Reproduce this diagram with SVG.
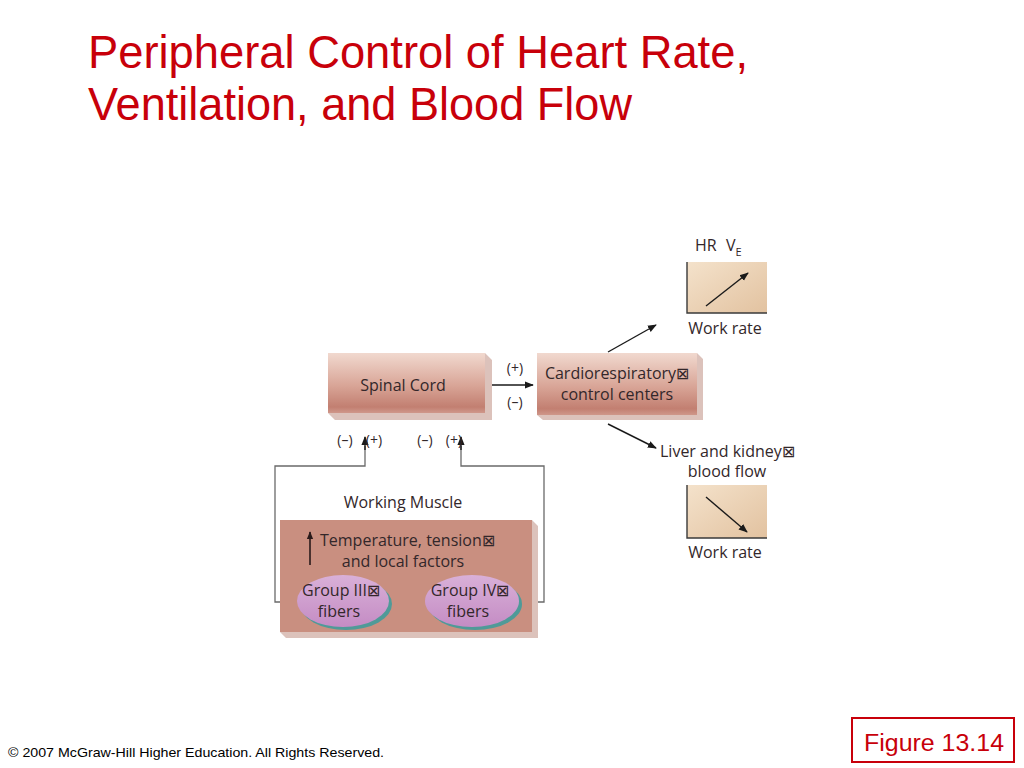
<svg xmlns="http://www.w3.org/2000/svg" width="1024" height="768" viewBox="0 0 1024 768">
<defs>
<linearGradient id="boxGrad" x1="0" y1="0" x2="0" y2="1">
<stop offset="0" stop-color="#f1d9cf"/>
<stop offset="0.55" stop-color="#d8a496"/>
<stop offset="0.9" stop-color="#c27f71"/>
<stop offset="1" stop-color="#cf978a"/>
</linearGradient>
<linearGradient id="graphGrad" x1="0" y1="0" x2="1" y2="1">
<stop offset="0" stop-color="#f4e2cb"/>
<stop offset="1" stop-color="#e2c2a0"/>
</linearGradient>
<linearGradient id="ellGrad" x1="0" y1="0" x2="0" y2="1">
<stop offset="0" stop-color="#d9b0d8"/>
<stop offset="1" stop-color="#c48cc4"/>
</linearGradient>
<marker id="ah" viewBox="0 0 10 10" refX="9" refY="5" markerWidth="9" markerHeight="9" markerUnits="userSpaceOnUse" orient="auto">
<path d="M0,1 L10,5 L0,9 Z" fill="#1a1a1a"/>
</marker>
<marker id="ahs" viewBox="0 0 10 10" refX="9" refY="5" markerWidth="8" markerHeight="8" markerUnits="userSpaceOnUse" orient="auto">
<path d="M0,1 L10,5 L0,9 Z" fill="#2a1a1a"/>
</marker>
</defs>
<style>
.title{font-family:"Liberation Sans",Arial,sans-serif;font-size:46px;fill:#c8000a}
.lbl{font-family:"Open Sans","Noto Sans",sans-serif;font-size:16px;fill:#33272a}
.sm{font-family:"Open Sans","Noto Sans",sans-serif;font-size:14px;fill:#33272a}
.shadow{fill:#dcc2bb}
.conn{fill:none;stroke:#6a6a6a;stroke-width:1.3}
.arr{fill:none;stroke:#1a1a1a;stroke-width:1.4}
.axis{fill:none;stroke:#3a3a3a;stroke-width:1.4}
.foot{font-family:"Liberation Sans",Arial,sans-serif;font-size:13px;fill:#000}
</style>
<rect width="1024" height="768" fill="#ffffff"/>

<g id="title">
<text class="title" x="88" y="68" textLength="660" lengthAdjust="spacingAndGlyphs">Peripheral Control of Heart Rate,</text>
<text class="title" x="88" y="120" textLength="544" lengthAdjust="spacingAndGlyphs">Ventilation, and Blood Flow</text>
</g>

<g id="connectors">
<line class="arr" x1="492" y1="385" x2="533" y2="385" marker-end="url(#ah)"/>
<line class="arr" x1="608" y1="352" x2="656" y2="325" marker-end="url(#ah)"/>
<line class="arr" x1="608" y1="424" x2="656" y2="448" marker-end="url(#ah)"/>
<polyline class="conn" points="297,602 275,602 275,466 365,466 365,446"/>
<line class="arr" x1="365" y1="450" x2="365" y2="437" marker-end="url(#ah)"/>
<polyline class="conn" points="521,602 544,602 544,466 461,466 461,446"/>
<line class="arr" x1="461" y1="450" x2="461" y2="437" marker-end="url(#ah)"/>
</g>

<g id="spinal-cord">
<polygon class="shadow" points="485,353 492,360 492,420 335,420 328,413 485,413"/>
<rect x="328" y="353" width="157" height="60" fill="url(#boxGrad)"/>
<text class="lbl" x="403" y="391" text-anchor="middle">Spinal Cord</text>
</g>

<g id="pm-labels">
<text class="sm" x="515" y="373" text-anchor="middle">(+)</text>
<text class="sm" x="515" y="407" text-anchor="middle">(–)</text>
<text class="sm" x="345" y="445" text-anchor="middle">(–)</text>
<text class="sm" x="374" y="445" text-anchor="middle">(+)</text>
<text class="sm" x="425" y="445" text-anchor="middle">(–)</text>
<text class="sm" x="454" y="445" text-anchor="middle">(+)</text>
</g>

<g id="cardio-centers">
<polygon class="shadow" points="697,353 703,359 703,420 543,420 537,415 697,415"/>
<rect x="537" y="353" width="160" height="62" fill="url(#boxGrad)"/>
<text class="lbl" x="617" y="379" text-anchor="middle">Cardiorespiratory⊠</text>
<text class="lbl" x="617" y="400" text-anchor="middle">control centers</text>
</g>

<g id="graph-hr">
<text class="lbl" x="695" y="251" font-size="15">HR</text>
<text class="lbl" x="726" y="251" font-size="15">V<tspan font-size="11" dy="5">E</tspan></text>
<rect x="687" y="262" width="80" height="51" fill="url(#graphGrad)"/>
<polyline class="axis" points="687,262 687,313 767,313"/>
<line class="arr" x1="706" y1="306" x2="748" y2="273" marker-end="url(#ah)"/>
<text class="lbl" x="725" y="334" text-anchor="middle">Work rate</text>
</g>

<g id="graph-liver">
<text class="lbl" x="660" y="457">Liver and kidney⊠</text>
<text class="lbl" x="727" y="477" text-anchor="middle">blood flow</text>
<rect x="687" y="485" width="80" height="53" fill="url(#graphGrad)"/>
<polyline class="axis" points="687,485 687,538 767,538"/>
<line class="arr" x1="706" y1="497" x2="747" y2="532" marker-end="url(#ah)"/>
<text class="lbl" x="725" y="558" text-anchor="middle">Work rate</text>
</g>

<g id="working-muscle">
<text class="lbl" x="403" y="508" text-anchor="middle">Working Muscle</text>
<polygon class="shadow" points="532,520 538,526 538,638 286,638 280,632 532,632"/>
<rect x="280" y="520" width="252" height="112" fill="#c98f80"/>
<line x1="310" y1="565" x2="310" y2="532" stroke="#2a1a1a" stroke-width="1.6" marker-end="url(#ahs)"/>
<text class="lbl" x="320" y="546">Temperature, tension⊠</text>
<text class="lbl" x="403" y="567" text-anchor="middle">and local factors</text>
</g>

<g id="group-iii">
<ellipse cx="346" cy="604" rx="46" ry="26" fill="#4f9a98"/>
<ellipse cx="343" cy="601" rx="46" ry="26" fill="url(#ellGrad)"/>
<text class="lbl" x="341" y="596" text-anchor="middle">Group III⊠</text>
<text class="lbl" x="339" y="617" text-anchor="middle">fibers</text>
</g>

<g id="group-iv">
<ellipse cx="475" cy="604" rx="47" ry="26" fill="#4f9a98"/>
<ellipse cx="472" cy="601" rx="47" ry="26" fill="url(#ellGrad)"/>
<text class="lbl" x="470" y="596" text-anchor="middle">Group IV⊠</text>
<text class="lbl" x="468" y="617" text-anchor="middle">fibers</text>
</g>

<g id="footer">
<text class="foot" x="8" y="757" textLength="376" lengthAdjust="spacingAndGlyphs">© 2007 McGraw-Hill Higher Education. All Rights Reserved.</text>
<rect x="852" y="718" width="162" height="44" fill="none" stroke="#c8000a" stroke-width="2"/>
<text x="864" y="751" font-family="Liberation Sans, Arial, sans-serif" font-size="23" fill="#c8000a" textLength="140" lengthAdjust="spacingAndGlyphs">Figure 13.14</text>
</g>
</svg>
